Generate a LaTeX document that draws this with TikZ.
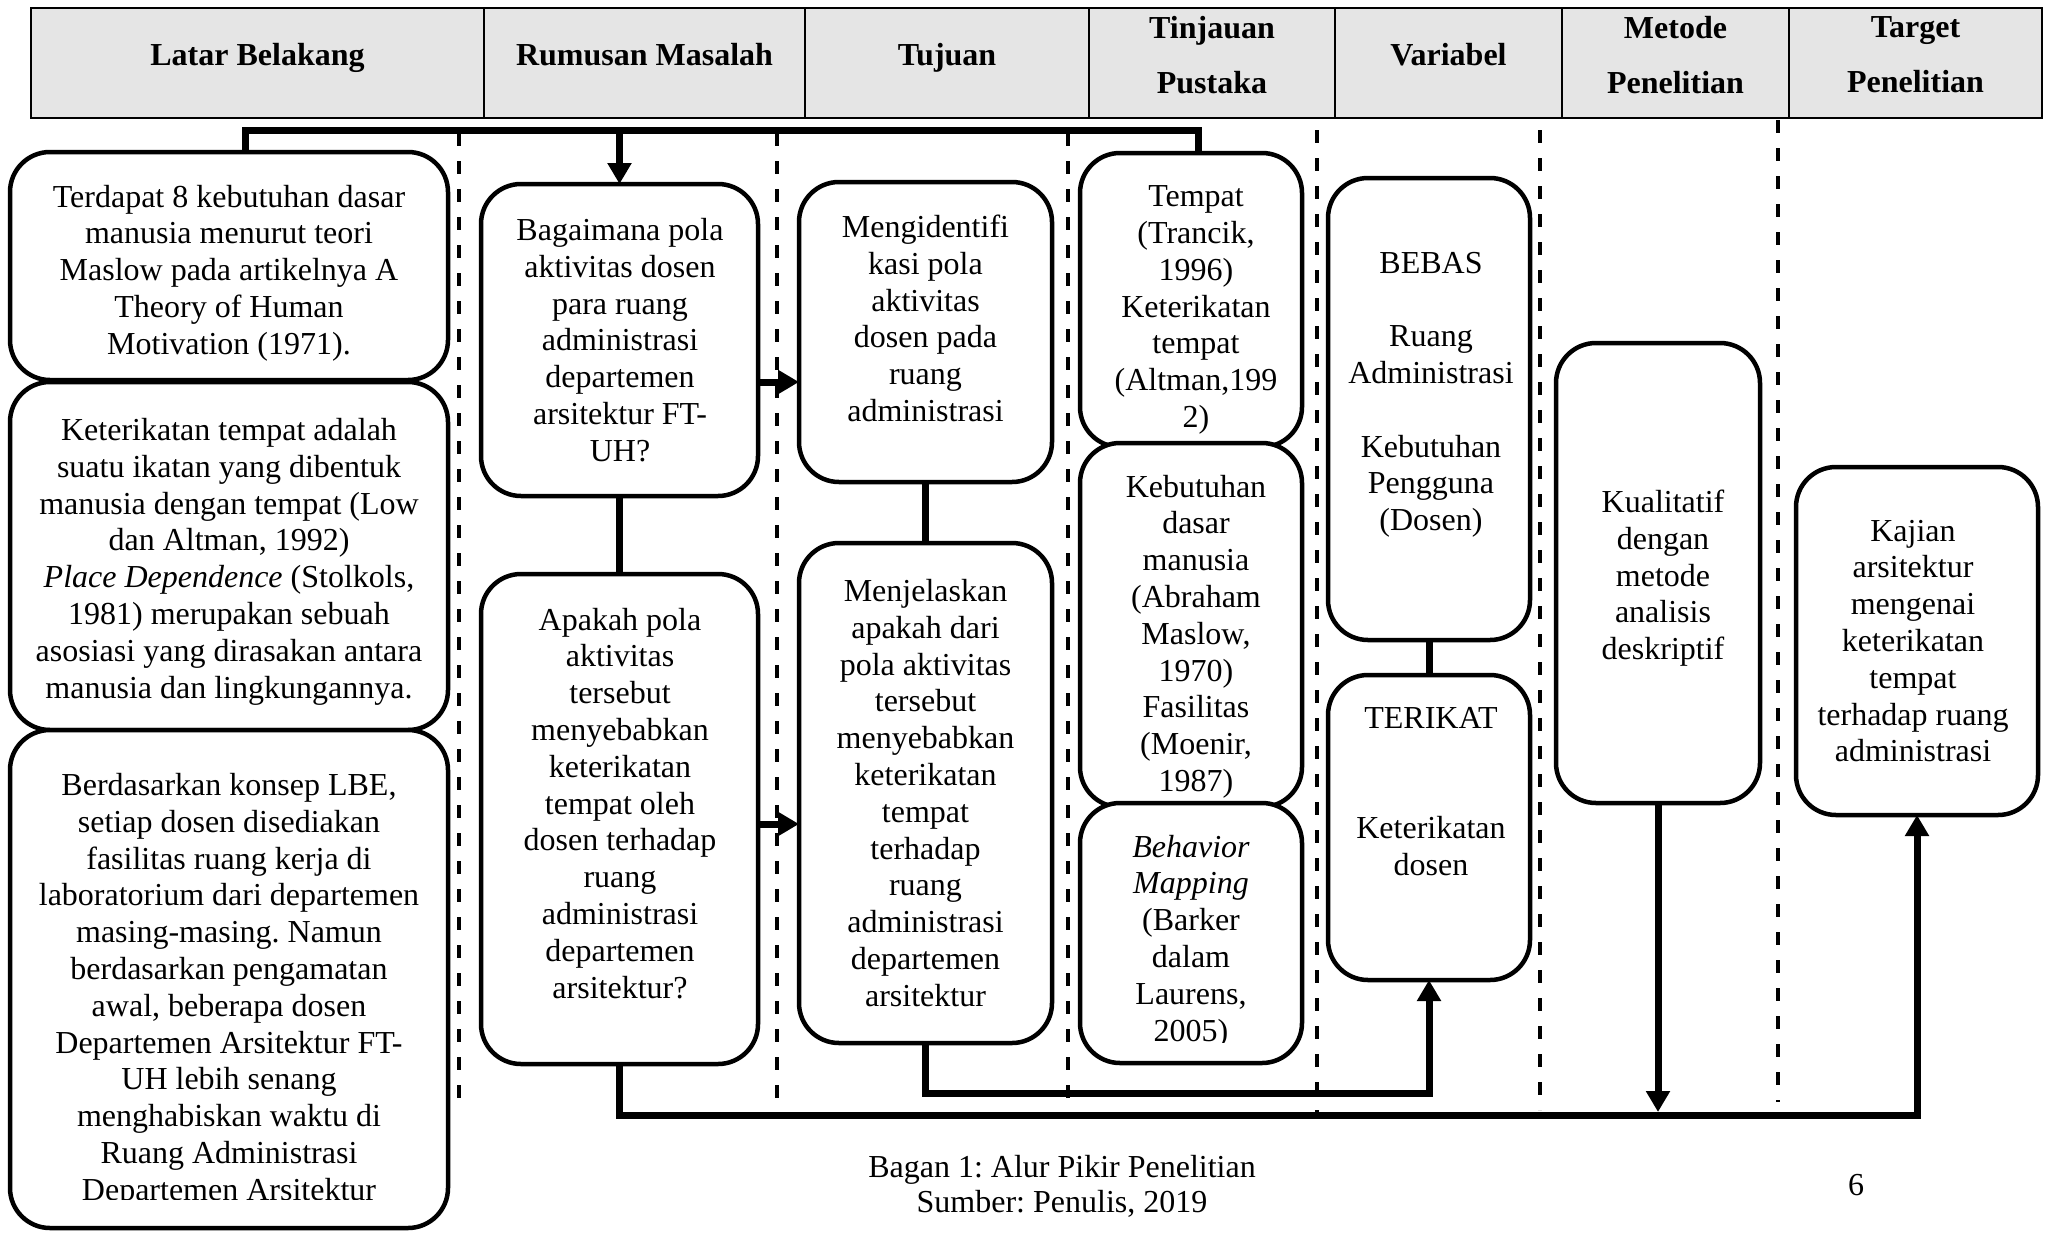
\documentclass[tikz,border=0pt]{standalone}
\usepackage{fontspec}
\setmainfont{Liberation Serif}
\usetikzlibrary{arrows.meta}
\newcommand\rbx[5]{\node[rbox, minimum width={#4-#2}, minimum height={#5-#3}] (#1) at ({(#2+#4)/2},{(#3+#5)/2}) {};}
\newcommand\hcl[3]{\node[hcell, minimum width={#3-#2}] (#1) at ({(#2+#3)/2},63) {};}
\frenchspacing
\begin{document}
\frenchspacing
\begin{tikzpicture}[x=1pt,y=-1pt,
 rbox/.style={draw, line width=4.5pt, rounded corners=40pt, fill=white, inner sep=0pt, outer sep=0pt},
 txt/.style={inner sep=0pt, align=center, anchor=north, font=\fontsize{32}{36.8}\selectfont},
 conn/.style={line width=7pt},
 arr/.style={-{Triangle[width=23pt,length=21pt]}},
 sepline/.style={line width=3.5pt, dash pattern=on 13pt off 15pt},
 hcell/.style={draw, line width=2pt, fill=gray!20, inner sep=0pt, outer sep=0pt, minimum height=110pt},
 htxt/.style={inner sep=0pt, font=\fontsize{32}{36.8}\selectfont\bfseries},
]
\useasboundingbox (0,0) rectangle (2048,1232);
\fill[white] (0,0) rectangle (2048,1232);

% header
\hcl{h1}{31}{484}
\hcl{h2}{484}{805}
\hcl{h3}{805}{1089}
\hcl{h4}{1089}{1335}
\hcl{h5}{1335}{1562}
\hcl{h6}{1562}{1789}
\hcl{h7}{1789}{2042}
\node[htxt, anchor=base] (h1t) at (h1 |- 0,65) {Latar Belakang};
\node[htxt, anchor=base] (h2t) at (h2 |- 0,65) {Rumusan Masalah};
\node[htxt, anchor=base] (h3t) at (h3 |- 0,65) {Tujuan};
\node[htxt, anchor=north, align=center, font=\fontsize{32}{55}\selectfont\bfseries] (h4t) at (h4 |- 0,16) {Tinjauan\\Pustaka};
\node[htxt, anchor=base] (h5t) at (h5 |- 0,65) {Variabel};
\node[htxt, anchor=north, align=center, font=\fontsize{32}{55}\selectfont\bfseries] (h6t) at (h6 |- 0,16) {Metode\\Penelitian};
\node[htxt, anchor=north, align=center, font=\fontsize{32}{55}\selectfont\bfseries] (h7t) at (h7 |- 0,16) {Target\\Penelitian};

% dashed separators
\draw[sepline] (459,133) -- (459,1112);
\draw[sepline] (777,133) -- (777,1105);
\draw[sepline] (1068,133) -- (1068,1112);
\draw[sepline] (1317,130) -- (1317,1112);
\draw[sepline] (1540,130) -- (1540,1110);
\draw[sepline] (1778,120) -- (1778,1102);

% left column
\rbx{l1}{10}{152}{448}{380}
\node[txt] (l1t) at (229,184.7) {Terdapat 8 kebutuhan dasar\\manusia menurut teori\\Maslow pada artikelnya A\\Theory of Human\\Motivation (1971).};
\rbx{l2}{10}{382}{448}{730}
\node[txt] (l2t) at (229,418) {Keterikatan tempat adalah\\suatu ikatan yang dibentuk\\manusia dengan tempat (Low\\dan Altman, 1992)\\\textit{Place Dependence} (Stolkols,\\1981) merupakan sebuah\\asosiasi yang dirasakan antara\\manusia dan lingkungannya.};
\rbx{l3}{10}{730}{448}{1228}
\begin{scope}
\clip (0,735) rectangle (460,1199);
\node[txt] (l3t) at (229,773) {Berdasarkan konsep LBE,\\setiap dosen disediakan\\fasilitas ruang kerja di\\laboratorium dari departemen\\masing-masing. Namun\\berdasarkan pengamatan\\awal, beberapa dosen\\Departemen Arsitektur FT-\\UH lebih senang\\menghabiskan waktu di\\Ruang Administrasi\\Departemen Arsitektur};
\end{scope}

% rumusan masalah
\rbx{r1}{481}{184}{758}{496}
\node[txt] (r1t) at (620,218) {Bagaimana pola\\aktivitas dosen\\para ruang\\administrasi\\departemen\\arsitektur FT-\\UH?};
\rbx{r2}{481}{574}{758}{1064}
\node[txt] (r2t) at (620,607.6) {Apakah pola\\aktivitas\\tersebut\\menyebabkan\\keterikatan\\tempat oleh\\dosen terhadap\\ruang\\administrasi\\departemen\\arsitektur?};

% tujuan
\rbx{t1}{799}{182}{1052}{482}
\node[txt] (t1t) at (925.5,214.7) {Mengidentifi\\kasi pola\\aktivitas\\dosen pada\\ruang\\administrasi};
\rbx{t2}{799}{543}{1052}{1043}
\node[txt] (t2t) at (925.5,579) {Menjelaskan\\apakah dari\\pola aktivitas\\tersebut\\menyebabkan\\keterikatan\\tempat\\terhadap\\ruang\\administrasi\\departemen\\arsitektur};

% tinjauan pustaka
\rbx{p1}{1080}{153}{1302}{447}
\node[txt] (p1t) at (1196,185.5) {Tempat\\(Trancik,\\1996)\\Keterikatan\\tempat\\(Altman,199\\2)};
\rbx{p2}{1080}{443}{1302}{807}
\node[txt] (p2t) at (1196,474.7) {Kebutuhan\\dasar\\manusia\\(Abraham\\Maslow,\\1970)\\Fasilitas\\(Moenir,\\1987)};
\rbx{p3}{1080}{803}{1302}{1063}
\begin{scope}
\clip (1070,808) rectangle (1310,1042);
\node[txt] (p3t) at (1191,834.7) {\textit{Behavior}\\\textit{Mapping}\\(Barker\\dalam\\Laurens,\\2005)};
\end{scope}

% variabel
\rbx{v1}{1328}{178}{1530}{640}
\node[txt] (v1t) at (1431,251.8) {BEBAS\\[36.8pt]Ruang\\Administrasi\\[36.8pt]Kebutuhan\\Pengguna\\(Dosen)};
\rbx{v2}{1328}{675}{1530}{980}
\node[txt] (v2t) at (1431,706.8) {TERIKAT\\[73.6pt]Keterikatan\\dosen};

% metode
\rbx{m1}{1556}{343}{1760}{803}
\node[txt] (m1t) at (1663,489.7) {Kualitatif\\dengan\\metode\\analisis\\deskriptif};

% target
\rbx{g1}{1796}{467}{2038}{815}
\node[txt] (g1t) at (1913,519.7) {Kajian\\arsitektur\\mengenai\\keterikatan\\tempat\\terhadap ruang\\administrasi};

% connectors
\coordinate (busL) at (245,130);
\coordinate (busR) at (1198,130);
\draw[conn] (l1.north -| busL) -- (busL) -- (busR) -- (p1.north -| busR);
\draw[conn,arr] (r1.north |- busL) -- (r1.north);
\draw[conn,arr] (r1.east |- 0,382) -- (t1.west |- 0,382);
\draw[conn,arr] (r2.east |- 0,824) -- (t2.west |- 0,824);
\draw[conn] (r1.south) -- (r2.north);
\draw[conn] (t1.south) -- (t2.north);
\draw[conn] (v1.south) -- (v2.north);
\coordinate (b1L) at (r2.south |- 0,1115);
\coordinate (b1R) at (g1.south |- 0,1115);
\draw[conn,arr] (r2.south) -- (b1L) -- (b1R) -- (g1.south);
\coordinate (b2L) at (t2.south |- 0,1093);
\coordinate (b2R) at (v2.south |- 0,1093);
\draw[conn,arr] (t2.south) -- (b2L) -- (b2R) -- (v2.south);
\coordinate (mEnd) at (m1.south |- 0,1112);
\draw[conn,arr] (m1.south) -- (mEnd);

% caption
\node[htxt, font=\fontsize{32}{36.8}\selectfont, anchor=base] (cap1) at (1062,1177) {Bagan 1: Alur Pikir Penelitian};
\node[htxt, font=\fontsize{32}{36.8}\selectfont, anchor=base] (cap2) at (1062,1212) {Sumber: Penulis, 2019};
\node[htxt, font=\fontsize{32}{36.8}\selectfont, anchor=base] (pg) at (1856,1195) {6};
\end{tikzpicture}
\end{document}
